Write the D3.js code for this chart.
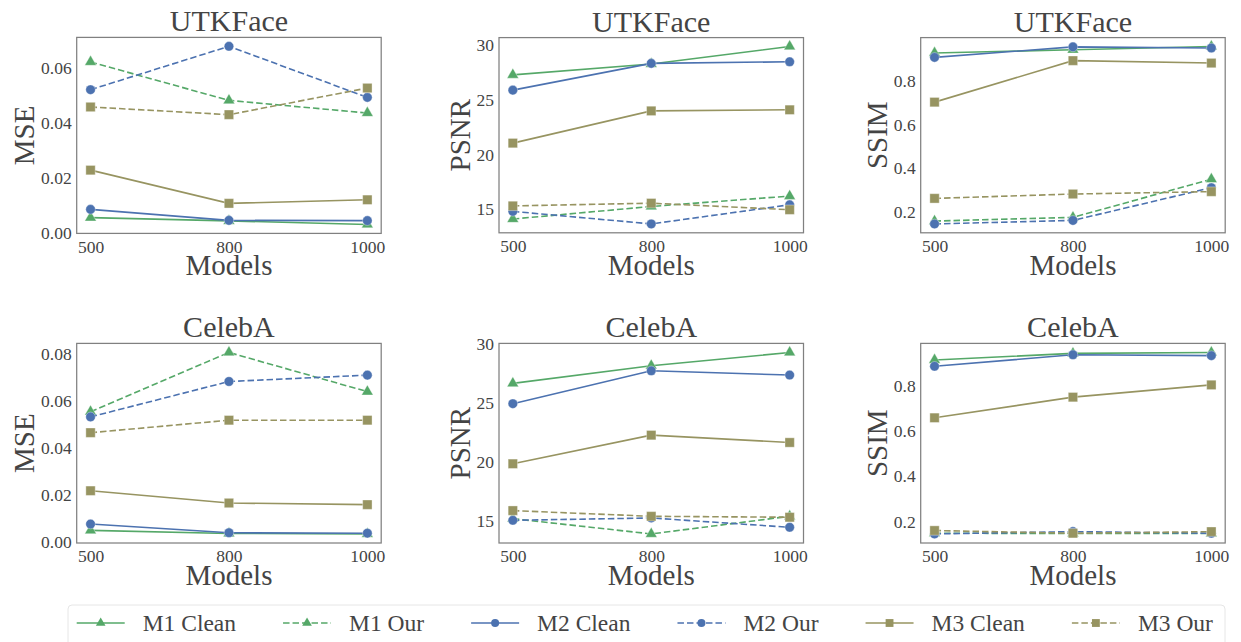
<!DOCTYPE html>
<html>
<head>
<meta charset="utf-8">
<script src="https://cdn.jsdelivr.net/npm/d3@7"></script>
<style>
	body { margin: 0; background: #ffffff; }
	svg { display: block; }
	svg text { font-family: "Liberation Serif", "Times New Roman", serif; }
</style>
</head>
<body>
<script>
var models = ["500", "800", "1000"];
var seriesNames = ["M1 Clean", "M1 Our", "M2 Clean", "M2 Our", "M3 Clean", "M3 Our"];

// rows follow seriesNames, columns follow models
var utkfaceMse = [
	[0.0055, 0.0043, 0.0030],
	[0.0622, 0.0482, 0.0436],
	[0.0085, 0.0045, 0.0044],
	[0.0521, 0.0679, 0.0493],
	[0.0228, 0.0107, 0.0120],
	[0.0458, 0.0430, 0.0527]
];
var utkfacePsnr = [
	[27.3, 28.3, 29.9],
	[14.1, 15.25, 16.2],
	[25.9, 28.35, 28.5],
	[14.8, 13.65, 15.4],
	[21.05, 24.0, 24.1],
	[15.3, 15.55, 14.95]
];
var utkfaceSsim = [
	[0.927, 0.942, 0.957],
	[0.157, 0.174, 0.349],
	[0.907, 0.955, 0.950],
	[0.144, 0.160, 0.310],
	[0.702, 0.892, 0.881],
	[0.261, 0.281, 0.292]
];
var celebaMse = [
	[0.0050, 0.0037, 0.0035],
	[0.0553, 0.0804, 0.0638],
	[0.0077, 0.0040, 0.0038],
	[0.0531, 0.0681, 0.0708],
	[0.0218, 0.0166, 0.0159],
	[0.0464, 0.0517, 0.0517]
];
var celebaPsnr = [
	[26.66, 28.15, 29.27],
	[15.22, 13.93, 15.42],
	[24.94, 27.72, 27.36],
	[15.08, 15.28, 14.49],
	[19.86, 22.28, 21.66],
	[15.9, 15.42, 15.34]
];
var celebaSsim = [
	[0.913, 0.942, 0.946],
	[0.149, 0.148, 0.148],
	[0.885, 0.936, 0.932],
	[0.146, 0.156, 0.149],
	[0.658, 0.749, 0.803],
	[0.161, 0.149, 0.156]
];

var mseTicks = [0, 0.02, 0.04, 0.06, 0.08];
var psnrTicks = [15, 20, 25, 30];
var ssimTicks = [0.2, 0.4, 0.6, 0.8];

var colors = ["#55A868", "#55A868", "#4C72B0", "#4C72B0", "#979461", "#979461"];
var dashed = [false, true, false, true, false, true];
var shapes = [d3.symbolTriangle, d3.symbolTriangle, d3.symbolCircle, d3.symbolCircle, d3.symbolSquare, d3.symbolSquare];
var shapeSizes = [58, 58, 72, 72, 88, 88];
var textColor = "#444444";

var svg = d3.select("body")
	.append("svg")
	.attr("width", 1241)
	.attr("height", 642);

var panels = [
	{ title: "UTKFace", ylabel: "MSE", data: utkfaceMse, ticks: mseTicks, fmt: d3.format(".2f"), x: 76.7, y: 37.4, w: 304.5, h: 196 },
	{ title: "UTKFace", ylabel: "PSNR", data: utkfacePsnr, ticks: psnrTicks, fmt: d3.format("d"), x: 499, y: 37.6, w: 304.5, h: 195.2 },
	{ title: "UTKFace", ylabel: "SSIM", data: utkfaceSsim, ticks: ssimTicks, fmt: d3.format(".1f"), x: 920.7, y: 37.6, w: 304.5, h: 195.2 },
	{ title: "CelebA", ylabel: "MSE", data: celebaMse, ticks: mseTicks, fmt: d3.format(".2f"), x: 76.7, y: 343.4, w: 304.5, h: 199.6 },
	{ title: "CelebA", ylabel: "PSNR", data: celebaPsnr, ticks: psnrTicks, fmt: d3.format("d"), x: 499, y: 343.4, w: 304.5, h: 199.6 },
	{ title: "CelebA", ylabel: "SSIM", data: celebaSsim, ticks: ssimTicks, fmt: d3.format(".1f"), x: 920.7, y: 343.4, w: 304.5, h: 199.6 }
];

function drawPanel (p) {
	var g = svg.append("g")
		.attr("transform", "translate(" + p.x + " " + p.y + ")");
	var x = d3.scalePoint()
		.domain(models)
		.range([0, p.w])
		.padding(0.1);
	var all = d3.merge(p.data);
	var lo = d3.min(all), hi = d3.max(all), pad = (hi - lo) * 0.05;
	var y = d3.scaleLinear()
		.domain([lo - pad, hi + pad])
		.range([p.h, 0]);
	var ticks = p.ticks.filter(function (t) {
		return t >= y.domain()[0] - 1e-9 && t <= y.domain()[1];
	});

	var yAxis = g.append("g")
		.call(d3.axisLeft(y).tickValues(ticks).tickFormat(p.fmt).tickSize(0).tickPadding(5));
	var xAxis = g.append("g")
		.attr("transform", "translate(0 " + p.h + ")")
		.call(d3.axisBottom(x).tickSize(0).tickPadding(7));
	[yAxis, xAxis].forEach(function (a) {
		a.attr("font-family", null)
			.attr("font-size", null);
		a.select(".domain").remove();
		a.selectAll("text")
			.attr("font-size", "17.5px")
			.attr("fill", textColor);
	});

	var line = d3.line()
		.x(function (d, i) { return x(models[i]); })
		.y(function (d) { return y(d); });

	p.data.forEach(function (vals, s) {
		g.append("path")
			.datum(vals)
			.attr("d", line)
			.attr("fill", "none")
			.attr("stroke", colors[s])
			.attr("stroke-width", 1.6)
			.attr("stroke-dasharray", dashed[s] ? "6.5,3" : null);
		g.selectAll(null)
			.data(vals)
			.enter()
			.append("path")
			.attr("d", d3.symbol().type(shapes[s]).size(shapeSizes[s]))
			.attr("transform", function (d, i) {
				return "translate(" + x(models[i]) + " " + y(d) + ")";
			})
			.attr("fill", colors[s])
			.attr("stroke", "#ffffff")
			.attr("stroke-opacity", 0.6)
			.attr("stroke-width", 0.6);
	});

	g.append("rect")
		.attr("width", p.w)
		.attr("height", p.h)
		.attr("fill", "none")
		.attr("stroke", "#808080")
		.attr("stroke-width", 1.25);

	g.append("text")
		.attr("x", p.w / 2)
		.attr("y", -6)
		.attr("text-anchor", "middle")
		.attr("fill", textColor)
		.attr("font-size", "30px")
		.text(p.title);

	g.append("text")
		.attr("x", p.w / 2)
		.attr("y", p.h + 42)
		.attr("text-anchor", "middle")
		.attr("fill", textColor)
		.attr("font-size", "29px")
		.text("Models");

	var left = d3.min(yAxis.selectAll("text").nodes(), function (n) {
		return n.getBBox().x;
	});
	g.append("text")
		.attr("transform", "translate(" + (left - 7) + " " + (p.h / 2) + ") rotate(-90)")
		.attr("text-anchor", "middle")
		.attr("fill", textColor)
		.attr("font-size", "29px")
		.text(p.ylabel);
}

panels.forEach(drawPanel);

(function () {
	var legend = svg.append("g");
	legend.append("rect")
		.attr("x", 68)
		.attr("y", 605)
		.attr("width", 1157)
		.attr("height", 50)
		.attr("rx", 4)
		.attr("fill", "#ffffff")
		.attr("stroke", "#e6e6e6")
		.attr("stroke-width", 1);
	var cx = 76.7;
	var ly = 623;
	seriesNames.forEach(function (name, s) {
		legend.append("line")
			.attr("x1", cx)
			.attr("x2", cx + 48)
			.attr("y1", ly)
			.attr("y2", ly)
			.attr("stroke", colors[s])
			.attr("stroke-width", 1.6)
			.attr("stroke-dasharray", dashed[s] ? "6.5,3" : null);
		legend.append("path")
			.attr("d", d3.symbol().type(shapes[s]).size(shapeSizes[s] * 0.7))
			.attr("transform", "translate(" + (cx + 24) + " " + ly + ")")
			.attr("fill", colors[s]);
		var t = legend.append("text")
			.attr("x", cx + 66)
			.attr("y", ly + 8)
			.attr("fill", textColor)
			.attr("font-size", "23.5px")
			.text(name);
		cx += 66 + t.node().getComputedTextLength() + 47;
	});
})();
</script>
</body>
</html>
